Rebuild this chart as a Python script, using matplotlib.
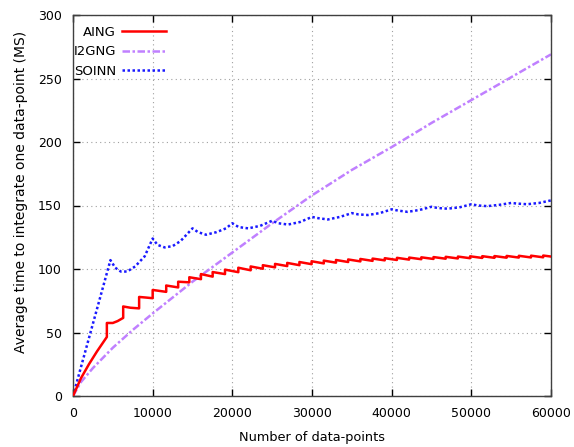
import matplotlib
matplotlib.use("Agg")
import matplotlib.pyplot as plt

# ---------------- data ----------------
x_ticks = [0, 10000, 20000, 30000, 40000, 50000, 60000]
y_ticks = [0, 50, 100, 150, 200, 250, 300]

aing_x = [0, 1000, 2000, 3000, 4250,
          4250, 5000, 5600, 6300,
          6300, 7200, 8300,
          8300, 9200, 10000,
          10000, 11700,
          11700, 13200,
          13200, 14600,
          14600, 16060,
          16060, 17530,
          17530, 19080,
          19080, 20750,
          20750, 22300,
          22300, 23830, 23830, 25360, 25360, 26890, 26890, 28420, 28420, 29950,
          29950, 31480, 31480, 33010, 33010, 34540, 34540, 36070, 36070, 37600,
          37600, 39130, 39130, 40660, 40660, 42190, 42190, 43720, 43720, 45250,
          45250, 46780, 46780, 48310, 48310, 49840, 49840, 51370, 51370, 52900,
          52900, 54430, 54430, 55960, 55960, 57490, 57490, 59020, 59020, 60000]
aing_y = [0, 14, 25, 35, 46.5,
          57.5, 57.5, 59, 61.5,
          70.5, 69.5, 69,
          78, 77.5, 77,
          83.5, 82,
          87, 85.5,
          90, 89.5,
          93.5, 92,
          96, 94,
          97.6, 96,
          99.5, 97.5,
          101, 99,
          102, 100.2, 103, 101.3, 104, 102.3, 104.8, 103, 105.5, 103.8,
          106.1, 104.4, 106.6, 105, 107.1, 105.5, 107.5, 106, 107.9, 106.4,
          108.2, 106.8, 108.5, 107.1, 108.8, 107.4, 109, 107.7, 109.2, 107.9,
          109.4, 108.1, 109.6, 108.3, 109.8, 108.5, 110, 108.7, 110.1, 108.8,
          110.2, 108.9, 110.3, 109, 110.4, 109.1, 110.5, 109.2, 110.6, 109.8]

i2gng_x = [0, 1000, 2500, 5000, 7500, 10000, 15000, 20000, 25000, 30000,
           35000, 40000, 45000, 50000, 55000, 60000]
i2gng_y = [0, 11, 22, 38, 52, 65, 90, 113, 136, 158,
           178, 196, 215, 233, 251, 269]

soinn_x = [0, 4700, 5300, 6000, 6800, 7800, 9000, 10000, 10600, 11500, 12500,
           13500, 15000, 15700, 16700, 18000, 19200, 20000, 20800, 22000,
           23500, 25000, 25800, 27000, 28500, 30000, 30800, 32000, 33500,
           35000, 35800, 37000, 38500, 40000, 40800, 42000, 43500, 45000,
           45800, 47000, 48500, 50000, 50800, 52000, 53500, 55000, 55800,
           57000, 58500, 60000]
soinn_y = [0, 107, 101, 98, 98, 102, 110, 124, 119, 117, 118,
           122, 132, 129, 127, 129, 132, 136, 133, 132,
           134, 138, 136, 135, 137, 141, 140, 139, 141,
           144, 143, 142.5, 144, 147, 146, 145, 146.5, 149,
           148, 147.5, 148.5, 151, 150, 149.5, 150.5, 152, 151.5,
           151, 152, 154]

labels = ["AING", "I2GNG", "SOINN"]
xlabel = "Number of data-points"
ylabel = "Average time to integrate one data-point (MS)"

# ---------------- plot ----------------
plt.rcParams['font.family'] = ['DejaVu Sans']
plt.rcParams['font.size'] = 9

fig = plt.figure(figsize=(5.74, 4.47), dpi=100)
ax = fig.add_axes([73/574, 51/447, 478/574, 381/447])

ax.plot(aing_x, aing_y, color='#ff0000', lw=1.8, label=labels[0], zorder=3)
ax.plot(i2gng_x, i2gng_y, color='#c080ff', lw=1.8,
        linestyle=(0, (3, 1, 1, 1)), label=labels[1], zorder=2)
ax.plot(soinn_x, soinn_y, color='#1a1aff', lw=1.8,
        linestyle=(0, (1, 1)), label=labels[2], zorder=2)

ax.set_xlim(0, 60000)
ax.set_ylim(0, 300)
ax.set_xticks(x_ticks)
ax.set_yticks(y_ticks)
ax.set_xticklabels([str(v) for v in x_ticks])
ax.set_yticklabels([str(v) for v in y_ticks])

ax.grid(True, color='#a0a0a0', linestyle=(0, (1, 3)), lw=0.8)
ax.tick_params(direction='in', length=5, width=1, top=True, right=True,
               pad=8, colors='black', labelsize=9)
for s in ax.spines.values():
    s.set_color('#404040')
    s.set_linewidth(1)

ax.set_xlabel(xlabel, fontsize=9.3, va='center')
ax.xaxis.set_label_coords(0.5, (396 - 437) / 381)
ax.set_ylabel(ylabel, fontsize=10, va='center')
ax.yaxis.set_label_coords((21 - 73) / 478, (396 - 192) / 381)

leg = ax.legend(loc='upper right', bbox_to_anchor=(93/478, 0.972),
                frameon=False, markerfirst=False, handlelength=3.3,
                handletextpad=0.5, labelspacing=0.5, borderpad=0,
                borderaxespad=0, fontsize=9.5)

fig.savefig("out.png", dpi=100)
